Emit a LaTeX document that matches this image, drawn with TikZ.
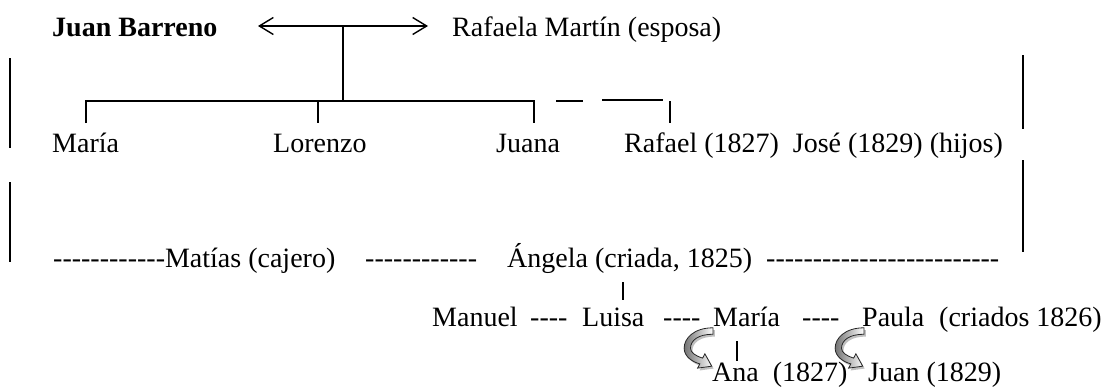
\documentclass[tikz,border=0pt]{standalone}
\usepackage{fontspec}
\setmainfont{Liberation Serif}
\usetikzlibrary{arrows.meta}
\newcommand\hyph[1]{\foreach \k in {1,...,#1}{-\kern0pt}}
\newcommand\curlpath{(0,-3) .. controls (-18,-3) and (-27,7) .. (-27,16) .. controls (-27,24) and (-19,29) .. (-12.3,30.7) -- (-14.4,34.7) -- (-1.2,32.9) -- (-7.6,21.3) -- (-9.7,25.3) .. controls (-17,23) and (-21,20) .. (-21,16) .. controls (-21,9) and (-14,3) .. (0,3) -- cycle}
\begin{document}
\begin{tikzpicture}[x=1pt,y=-1pt,
  txt/.style={inner sep=0pt, anchor=base west, font=\fontsize{28}{34}\selectfont},
  ln/.style={line width=1.4pt},
  bar/.style={line width=1.8pt},
  thin/.style={line width=1.1pt},
  dbl/.style={{Straight Barb[length=14pt,width=17pt]}-{Straight Barb[length=14pt,width=17pt]}},
  carrow/.style={draw=black!85, line width=0.8pt, left color=black!55, right color=white},
  curl/.pic={
    \begin{scope}[scale=1.07]
    \fill[black!55, opacity=0.45, shift={(1.8,2.2)}] \curlpath;
    \shadedraw[carrow] \curlpath;
    \end{scope}
  }]
\useasboundingbox (0,0) rectangle (1110,388);
% row 1
\node[txt, font=\fontsize{28}{34}\selectfont\bfseries] (jb) at (52,36) {Juan Barreno};
\node[txt] (rm) at (452,36) {Rafaela Martín (esposa)};
\coordinate (aL) at (258,26);
\coordinate (aR) at (428,26);
\coordinate (aM) at (343,26);
\coordinate (b0) at (343,101);
\draw[ln, dbl] (aL) -- (aR);
\draw[ln] (aM) -- (b0);
% row 2
\node[txt] (c1) at (52,152) {María};
\node[txt] (c2) at (273,152) {Lorenzo};
\node[txt] (c3) at (496,152) {Juana};
\node[txt] (c4) at (624,152) {Rafael (1827)\ \ José (1829) (hijos)};
\coordinate (t1) at (86,123);
\coordinate (t2a) at (318,101);
\coordinate (t2) at (318,123);
\coordinate (bR) at (534,101);
\coordinate (t3) at (534,123);
\draw[ln] (t1) |- (bR) -- (t3);
\draw[ln] (t2a) -- (t2);
\coordinate (d1a) at (556,101);
\coordinate (d1b) at (583,101);
\coordinate (d2a) at (602,100);
\coordinate (d2b) at (663,100);
\coordinate (t4a) at (670,101);
\coordinate (t4) at (670,123);
\draw[ln] (d1a) -- (d1b);
\draw[ln] (d2a) -- (d2b);
\draw[ln] (t4a) -- (t4);
% side bars
\coordinate (l1a) at (10,58);  \coordinate (l1b) at (10,148);
\coordinate (l2a) at (10,182); \coordinate (l2b) at (10,262);
\coordinate (r1a) at (1023,55);  \coordinate (r1b) at (1023,129);
\coordinate (r2a) at (1023,160); \coordinate (r2b) at (1023,252);
\draw[bar] (l1a) -- (l1b);
\draw[bar] (l2a) -- (l2b);
\draw[bar] (r1a) -- (r1b);
\draw[bar] (r2a) -- (r2b);
% row 3
\node[txt] (ma) at (53,267) {\hyph{12}Matías (cajero)};
\node[txt] (dd1) at (365,267) {\hyph{12}};
\node[txt] (ang) at (507,267) {Ángela (criada, 1825)};
\node[txt] (dd2) at (766,267) {\hyph{25}};
\coordinate (v1a) at (623,282);
\coordinate (v1b) at (623,300);
\draw[thin] (v1a) -- (v1b);
% row 4
\node[txt] (man) at (432,326) {Manuel};
\node[txt] (e1) at (530,326) {\hyph{4}};
\node[txt] (lui) at (582,326) {Luisa};
\node[txt] (e2) at (663,326) {\hyph{4}};
\node[txt] (mar) at (713,326) {María};
\node[txt] (e3) at (802,326) {\hyph{4}};
\node[txt] (pau) at (862,326) {Paula};
\node[txt] (cri) at (939,326) {(criados 1826)};
\coordinate (v2a) at (737,341);
\coordinate (v2b) at (737,361);
\draw[thin] (v2a) -- (v2b);
% row 5
\node[txt] (ana) at (712,381) {Ana\ \ (1827)};
\node[txt] (jua) at (868,381) {Juan (1829)};
\pic at (713,331) {curl};
\pic at (864,331) {curl};
\end{tikzpicture}
\end{document}
